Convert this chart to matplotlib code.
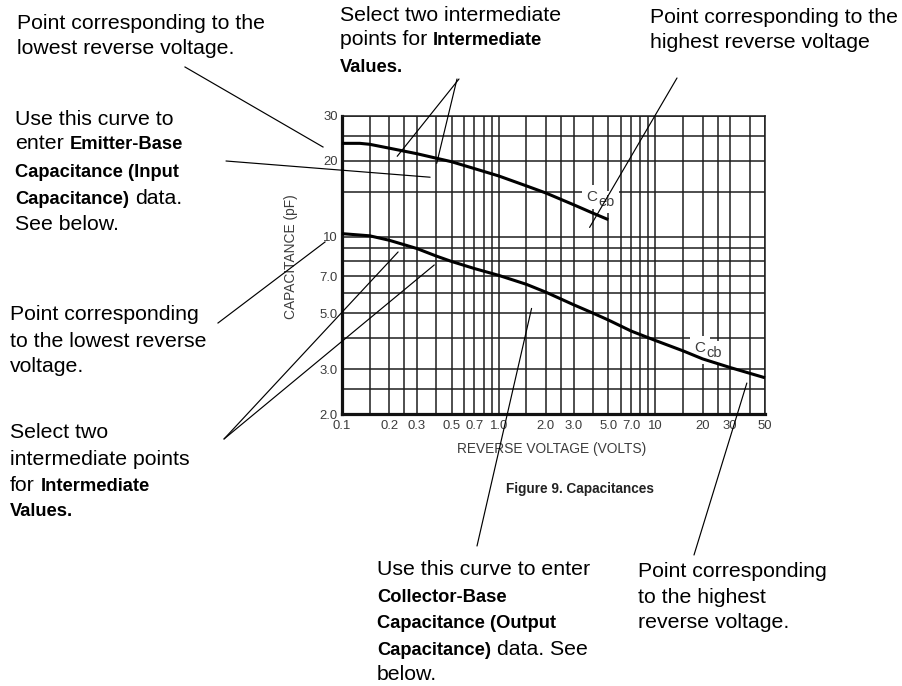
import matplotlib
matplotlib.use('Agg')
import matplotlib.pyplot as plt
from matplotlib import font_manager as fm
from matplotlib.ticker import FixedLocator, FixedFormatter, NullFormatter
from matplotlib.lines import Line2D

# ---------------- data ----------------
ceb_volts = [0.1, 0.13, 0.15, 0.2, 0.3, 0.5, 0.7, 1.0, 1.5, 2.0, 3.0, 4.0, 5.0]
ceb_pf = [23.4, 23.4, 23.2, 22.4, 21.3, 19.8, 18.6, 17.4, 15.9, 14.9, 13.4, 12.4, 11.7]

ccb_volts = [0.1, 0.15, 0.2, 0.3, 0.4, 0.5, 0.7, 1.0, 1.5, 2.0, 3.0, 4.0, 5.0, 7.0,
             10, 15, 20, 30, 50]
ccb_pf = [10.3, 10.1, 9.7, 9.0, 8.4, 8.0, 7.5, 7.05, 6.5, 6.05, 5.4, 5.0, 4.7, 4.25,
          3.9, 3.55, 3.3, 3.05, 2.78]

x_major = [0.1, 0.2, 0.3, 0.5, 0.7, 1.0, 2.0, 3.0, 5.0, 7.0, 10, 20, 30, 50]
x_major_labels = ["0.1", "0.2", "0.3", "0.5", "0.7", "1.0", "2.0", "3.0", "5.0", "7.0", "10", "20", "30", "50"]
x_minor = [0.15, 0.25, 0.4, 0.6, 0.8, 0.9, 1.5, 2.5, 4, 6, 8, 9, 15, 25, 40]

y_major = [2, 3, 5, 7, 10, 20, 30]
y_major_labels = ["2.0", "3.0", "5.0", "7.0", "10", "20", "30"]
y_minor = [2.5, 4, 6, 8, 9, 15, 25]

# ---------------- fonts ----------------
def has_font(name):
    try:
        fm.findfont(fm.FontProperties(family=name), fallback_to_default=False)
        return True
    except Exception:
        return False

SANS = 'Liberation Sans' if has_font('Liberation Sans') else 'DejaVu Sans'
if has_font('Liberation Sans Narrow'):
    NARROW, NSCALE = 'Liberation Sans Narrow', 1.0
else:
    NARROW, NSCALE = SANS, 0.86

W, H = 902, 686
fig = plt.figure(figsize=(W / 100, H / 100), dpi=100)
renderer = fig.canvas.get_renderer()


def fx(px):
    return px / W


def fy(py):
    return 1 - py / H


# ---------------- axes ----------------
ax = fig.add_axes([fx(342), fy(414), (765 - 342) / W, (414 - 116) / H])
ax.set_xscale('log')
ax.set_yscale('log')
ax.set_xlim(0.1, 50)
ax.set_ylim(2, 30)

ax.xaxis.set_major_locator(FixedLocator(x_major))
ax.xaxis.set_major_formatter(FixedFormatter(x_major_labels))
ax.xaxis.set_minor_locator(FixedLocator(x_minor))
ax.xaxis.set_minor_formatter(NullFormatter())
ax.yaxis.set_major_locator(FixedLocator(y_major))
ax.yaxis.set_major_formatter(FixedFormatter(y_major_labels))
ax.yaxis.set_minor_locator(FixedLocator(y_minor))
ax.yaxis.set_minor_formatter(NullFormatter())

ax.set_axisbelow(True)
ax.grid(True, which='both', color='#1e1e1e', linewidth=1.1)
ax.tick_params(which='both', length=0)
ax.tick_params(axis='x', pad=4)
ax.tick_params(axis='y', pad=3)
TICKC = '#3c3c3c'
for lab in ax.get_xticklabels() + ax.get_yticklabels():
    lab.set_fontfamily(NARROW)
    lab.set_fontsize(11 * NSCALE)
    lab.set_color(TICKC)

for side in ['left', 'bottom']:
    ax.spines[side].set_linewidth(2.3)
    ax.spines[side].set_color('#111111')
for side in ['top', 'right']:
    ax.spines[side].set_linewidth(1.1)
    ax.spines[side].set_color('#1e1e1e')

ax.set_xlabel('REVERSE VOLTAGE (VOLTS)', family=NARROW, fontsize=11.5 * NSCALE, color=TICKC)
ax.xaxis.set_label_coords((552 - 342) / 423, (414 - 449) / 298)
ax.xaxis.label.set_va('center')
ax.set_ylabel('CAPACITANCE (pF)', family=NARROW, fontsize=11.5 * NSCALE, color=TICKC)
ax.yaxis.set_label_coords((291 - 342) / 423, (414 - 257) / 298)
ax.yaxis.label.set_va('center')

# curves
ax.plot(ceb_volts, ceb_pf, color='black', lw=2.2, zorder=4, solid_capstyle='butt')
ax.plot(ccb_volts, ccb_pf, color='black', lw=2.2, zorder=4, solid_capstyle='butt', clip_on=False)

# curve labels with white backgrounds
box = dict(boxstyle='square,pad=0.3', fc='white', ec='none')
for (xv, yv, sub) in [(4.27, 13.85, 'eb'), (20.9, 3.52, 'cb')]:
    common = dict(xy=(xv, yv), xycoords='data', va='baseline', family=SANS)
    # white background behind the "C"
    ax.annotate('C', ha='right', bbox=box, fontsize=11, color='white', zorder=3.0, **common)
    # subscript with its own background
    ax.annotate(sub, xytext=(0.5, -3.5), textcoords='offset points', ha='left',
                bbox=box, fontsize=10.5, color=TICKC, zorder=3.1, **common)
    # the "C" glyph on top
    ax.annotate('C', ha='right', fontsize=11, color=TICKC, zorder=3.3, **common)

# ---------------- figure caption ----------------
fig.text(fx(580), fy(489), 'Figure 9. Capacitances', family=SANS, fontsize=9.8,
         weight='bold', color='#222222', ha='center', va='center')

# ---------------- annotation texts ----------------
REG = dict(family=SANS, size=15.3, weight='normal')
BOLD = dict(family=SANS, size=13.2, weight='bold')


def width_of(s, style):
    t = fig.text(0, 0, s, **style)
    w = t.get_window_extent(renderer).width
    t.remove()
    return w


SPACE = width_of('a a', REG) - width_of('aa', REG)


def rich_line(x, y, segs):
    cur = x
    for i, (s, b) in enumerate(segs):
        style = BOLD if b else REG
        t = fig.text(fx(cur), fy(y), s, ha='left', va='baseline', color='black', **style)
        cur += t.get_window_extent(renderer).width
        if i < len(segs) - 1:
            cur += SPACE


def block(x, baselines, lines):
    for y, segs in zip(baselines, lines):
        if isinstance(segs, str):
            segs = [(segs, False)]
        rich_line(x, y, segs)


block(17, [29, 54], ["Point corresponding to the", "lowest reverse voltage."])
block(15, [125, 149, 177, 204, 230],
      ["Use this curve to",
       [("enter", False), ("Emitter-Base", True)],
       [("Capacitance (Input", True)],
       [("Capacitance)", True), ("data.", False)],
       "See below."])
block(340, [21, 45, 72],
      ["Select two intermediate",
       [("points for", False), ("Intermediate", True)],
       [("Values.", True)]])
block(650, [23, 48], ["Point corresponding to the", "highest reverse voltage"])
block(10, [320, 347, 372], ["Point corresponding", "to the lowest reverse", "voltage."])
block(10, [438, 465, 491, 516],
      ["Select two", "intermediate points",
       [("for", False), ("Intermediate", True)],
       [("Values.", True)]])
block(377, [575, 602, 628, 655, 680],
      ["Use this curve to enter",
       [("Collector-Base", True)],
       [("Capacitance (Output", True)],
       [("Capacitance)", True), ("data. See", False)],
       "below."])
block(638, [577, 603, 628], ["Point corresponding", "to the highest", "reverse voltage."])

# ---------------- leader lines ----------------
LW = 0.85


def fig_line(p0, p1):
    fig.add_artist(Line2D([fx(p0[0]), fx(p1[0])], [fy(p0[1]), fy(p1[1])],
                          transform=fig.transFigure, color='black', lw=LW))


def leader(data_pt, px_pt):
    ax.annotate('', xy=data_pt, xycoords='data',
                xytext=(fx(px_pt[0]), fy(px_pt[1])), textcoords=fig.transFigure,
                arrowprops=dict(arrowstyle='-', color='black', lw=LW,
                                shrinkA=0, shrinkB=0),
                annotation_clip=False, zorder=5)


fig_line((185, 67), (323, 147))
leader((0.365, 17.2), (226, 161))
leader((0.225, 20.8), (459, 79))
leader((0.402, 19.5), (457, 79))
leader((3.8, 10.9), (677, 78))
fig_line((218, 323), (325, 242))
leader((0.228, 8.72), (224, 439))
leader((0.388, 7.75), (224, 439))
leader((1.62, 5.22), (477, 546))
leader((38.3, 2.65), (694, 555))

fig.savefig('out.png', dpi=100)
